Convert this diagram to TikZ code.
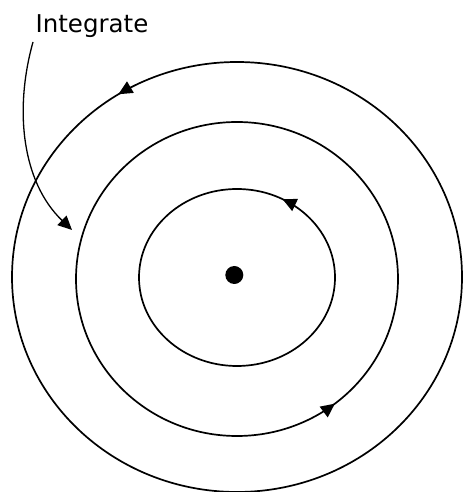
\documentclass[tikz,border=0pt]{standalone}
\usepackage{fontspec}
\setmainfont{DejaVu Sans}
\usetikzlibrary{arrows.meta,decorations.markings}
\begin{document}
\begin{tikzpicture}[x=1pt,y=1pt,
  ring/.style={line width=1.7pt},
  tipmark/.style={postaction={decorate,decoration={markings,
     mark=at position #1 with {\arrow{Triangle[length=14pt,width=13pt]}}}}}]
\useasboundingbox (0,0) rectangle (464,492);
% rings
\draw[ring,tipmark=0.34] (237,215) ellipse [x radius=225, y radius=215];
\draw[ring,tipmark=0.855] (237,213) ellipse [x radius=161, y radius=157];
\draw[ring,tipmark=0.17] (237,214.5) ellipse [x radius=98, y radius=88.5];
% centre dot
\node[circle,fill=black,inner sep=0pt,minimum size=18pt] (dot) at (234.3,217) {};
% label
\node[font=\fontsize{24.5}{28}\selectfont,inner sep=0pt,anchor=base] (lab) at (92,459) {Integrate};
\coordinate (tipend) at (72,262);
\draw[line width=1.3pt,-{Triangle[length=14pt,width=13pt]}]
  (33,450) .. controls (14,382) and (22,310) .. (tipend);
\end{tikzpicture}
\end{document}
